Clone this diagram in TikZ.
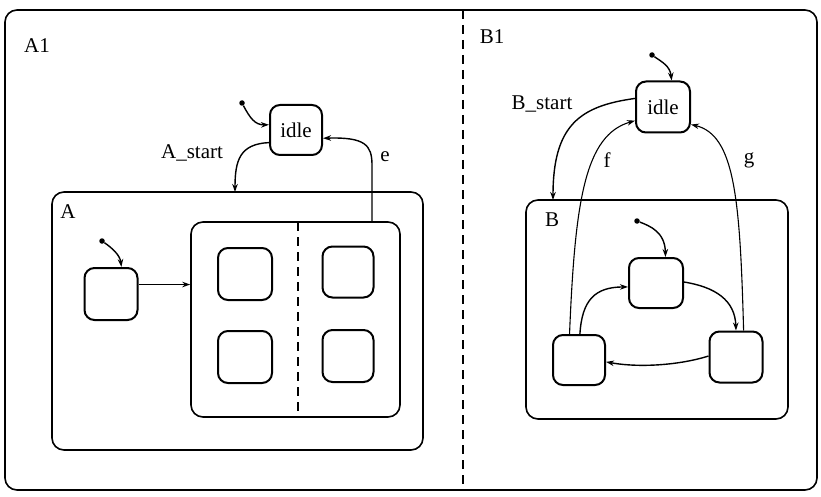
\documentclass[tikz,border=0pt]{standalone}
\usepackage{fontspec}
\setmainfont{Liberation Serif}
\usetikzlibrary{arrows.meta}
\begin{document}
\begin{tikzpicture}[x=1pt,y=-1pt,
  box/.style={draw,line width=1.6pt,rounded corners=12pt,inner sep=0pt},
  st/.style={draw,line width=2pt,rounded corners=10pt,inner sep=0pt,minimum width=53pt,minimum height=51pt},
  lbl/.style={inner sep=0pt,font=\fontsize{21}{24}\selectfont},
  arr/.style={line width=1.4pt,-{Stealth[length=8pt,width=5.5pt]}},
  dot/.style={circle,fill,inner sep=0pt,minimum size=5.5pt}]
\useasboundingbox (0,0) rectangle (821,497);
% outer frame
\node[box,minimum width=812pt,minimum height=480pt] (outer) at (411,250) {};
\coordinate (dtop) at (463,10);
\coordinate (dbot) at (463,490);
\draw[line width=1.6pt,dash pattern=on 9pt off 6pt] (dtop) -- (dbot);
% left half
\node[lbl] (A1) at (37,46) {A1};
\node[st,minimum width=52pt,minimum height=50pt] (idleA) at (296,130) {\fontsize{21}{24}\selectfont idle};
\node[box,minimum width=371pt,minimum height=258pt] (Abox) at (237.5,321) {};
\node[lbl] (Alab) at (68,212) {A};
\node[box,minimum width=209pt,minimum height=195pt] (inner) at (295.5,319.5) {};
\coordinate (itop) at (298,222);
\coordinate (ibot) at (298,417);
\draw[line width=1.6pt,dash pattern=on 9pt off 6pt] (itop) -- (ibot);
\node[st,minimum width=54pt,minimum height=52pt] (s1) at (245,274) {};
\node[st,minimum width=54pt,minimum height=52pt] (s2) at (245,357) {};
\node[st,minimum width=51pt,minimum height=51pt] (s3) at (348,272) {};
\node[st,minimum width=51pt,minimum height=52pt] (s4) at (348,356) {};
\node[st,minimum width=53pt,minimum height=52pt] (ls) at (111,294) {};
% left transitions
\node[dot] (iA) at (242,103) {};
\draw[arr] (iA) .. controls (250,118) and (255,125) .. (idleA.169);
\coordinate (asT) at (235,192);
\draw[arr] (idleA.205) .. controls (240,144) and (235,160) .. (asT);
\node[lbl] (astart) at (192,153) {A\_start};
\coordinate (eS) at (372,222);
\draw[arr] (eS) -- (372,165) .. controls (372,145) and (365,137) .. (idleA.-17);
\node[lbl] (elab) at (385,157) {e};
\node[dot] (iL) at (102,241) {};
\draw[arr] (iL) .. controls (112,248) and (120,255) .. (ls.69);
\draw[arr] (ls.19) -- (ls.19 -| inner.west);
% right half
\node[lbl] (B1) at (492,37) {B1};
\node[st,minimum width=54pt,minimum height=51pt] (idleB) at (663,107) {\fontsize{21}{24}\selectfont idle};
\node[box,minimum width=262pt,minimum height=219pt] (Bbox) at (657,309.5) {};
\node[lbl] (Blab) at (552,220) {B};
\node[st,minimum width=54pt,minimum height=50pt] (Bt) at (656,283) {};
\node[st,minimum width=52pt,minimum height=50pt] (Bl) at (579,360) {};
\node[st,minimum width=53pt,minimum height=51pt] (Br) at (736,357) {};
\node[dot] (iB) at (652,55) {};
\draw[arr] (iB) .. controls (662,62) and (670,66) .. (idleB.72);
\coordinate (bsT) at (553,200);
\draw[arr] (idleB.163) .. controls (580,106) and (553,125) .. (bsT);
\node[lbl] (bstart) at (542,104) {B\_start};
\draw[arr,line width=1.1pt] (Bl.110) .. controls (575,200) and (585,135) .. (idleB.206);
\node[lbl] (flab) at (607,160) {f};
\draw[arr,line width=1.1pt] (Br.74) .. controls (740,200) and (735,135) .. (idleB.-32);
\node[lbl] (glab) at (749,160) {g};
\node[dot] (iBt) at (637,221) {};
\draw[arr] (iBt) .. controls (650,226) and (665,232) .. (Bt.70);
\draw[arr] (Bl.88) .. controls (582,300) and (595,287) .. (Bt.188);
\draw[arr] (Bt.2) .. controls (715,287) and (735,300) .. (Br.90);
\draw[arr] (Br.178) .. controls (680,365) and (640,368) .. (Bl.-4);
\end{tikzpicture}
\end{document}
